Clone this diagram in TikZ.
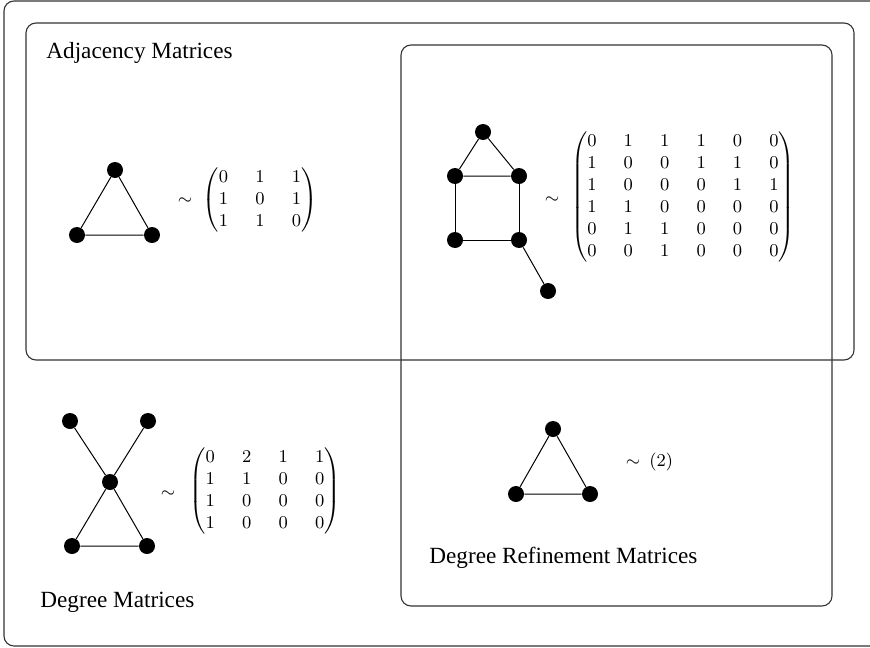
\documentclass[tikz,border=0pt]{standalone}
\usepackage{amsmath}
\usepackage{fontspec}
\setmainfont{Liberation Serif}
\tikzset{
  vtx/.style={circle,fill=black,inner sep=0pt,minimum size=8pt},
  edge/.style={line width=0.5pt},
  frame/.style={draw=black!80,line width=0.55pt,rounded corners=5pt},
  lbl/.style={anchor=base west,inner sep=0pt,font=\fontsize{11.6}{14}\selectfont},
  mat/.style={inner sep=0pt,font=\fontsize{9.5}{11}\selectfont},
}
\newcommand{\mymat}[1]{$\setlength{\arraycolsep}{6.8pt}\begin{pmatrix}#1\end{pmatrix}$}
\begin{document}
\begin{tikzpicture}[x=0.5pt,y=-0.5pt]
\useasboundingbox (0,0) rectangle (870,647);
% frames
\draw[frame] (4,1) rectangle (890,646);
\draw[frame] (26,23) rectangle (854,360);
\draw[frame] (401,45) rectangle (832,606);
% labels
\node[lbl] (la) at (46,59) {Adjacency Matrices};
\node[lbl] (ld) at (40,607) {Degree Matrices};
\node[lbl] (lr) at (429,563) {Degree Refinement Matrices};
% graph 1: triangle
\node[vtx] (a1) at (115,170) {};
\node[vtx] (a2) at (77,235) {};
\node[vtx] (a3) at (152,235) {};
\draw[edge] (a1) -- (a2) -- (a3) -- (a1);
\node[mat] (t1) at (185,201) {$\sim$};
\node[mat] (m1) at (260,200) {\mymat{0 & 1 & 1\\ 1 & 0 & 1\\ 1 & 1 & 0}};
% graph 2: house
\node[vtx] (h0) at (483,132) {};
\node[vtx] (h1) at (455,176) {};
\node[vtx] (h2) at (519,176) {};
\node[vtx] (h3) at (455,240) {};
\node[vtx] (h4) at (519,240) {};
\node[vtx] (h5) at (548,291) {};
\draw[edge] (h0) -- (h1) -- (h2) -- (h0);
\draw[edge] (h1) -- (h3) -- (h4) -- (h2);
\draw[edge] (h4) -- (h5);
\node[mat] (t2) at (552,200) {$\sim$};
\node[mat] (m2) at (683,197) {\mymat{0 & 1 & 1 & 1 & 0 & 0\\ 1 & 0 & 0 & 1 & 1 & 0\\ 1 & 0 & 0 & 0 & 1 & 1\\ 1 & 1 & 0 & 0 & 0 & 0\\ 0 & 1 & 1 & 0 & 0 & 0\\ 0 & 0 & 1 & 0 & 0 & 0}};
% graph 3
\node[vtx] (d1) at (70,421) {};
\node[vtx] (d2) at (148,421) {};
\node[vtx] (d0) at (110,482) {};
\node[vtx] (d3) at (72,546) {};
\node[vtx] (d4) at (147,546) {};
\draw[edge] (d1) -- (d0) -- (d2);
\draw[edge] (d0) -- (d3) -- (d4) -- (d0);
\node[mat] (t3) at (168,494) {$\sim$};
\node[mat] (m3) at (265,491) {\mymat{0 & 2 & 1 & 1\\ 1 & 1 & 0 & 0\\ 1 & 0 & 0 & 0\\ 1 & 0 & 0 & 0}};
% graph 4
\node[vtx] (r1) at (553,429) {};
\node[vtx] (r2) at (516,494) {};
\node[vtx] (r3) at (590,494) {};
\draw[edge] (r1) -- (r2) -- (r3) -- (r1);
\node[mat] (t4) at (633,463) {$\sim$};
\node[mat,anchor=west] (m4) at (649,462) {$(2)$};
\end{tikzpicture}
\end{document}
